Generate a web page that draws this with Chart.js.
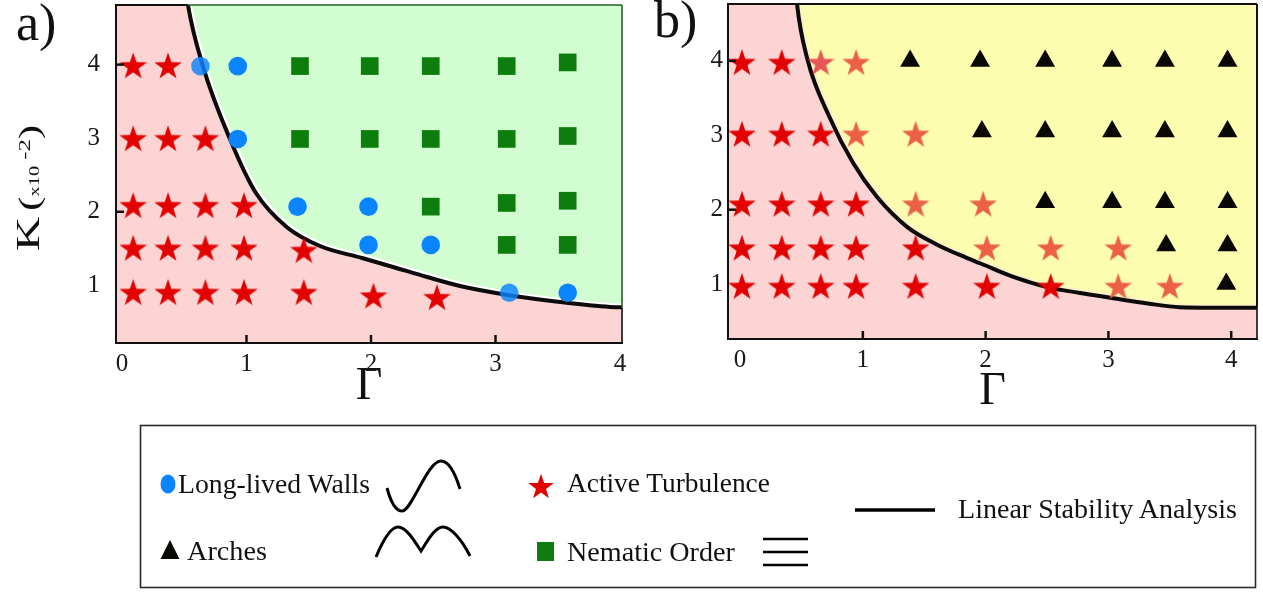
<!DOCTYPE html>
<html lang="en">
<head>
<meta charset="utf-8">
<title>Phase diagrams in the Γ–K plane</title>
<script src="https://cdn.jsdelivr.net/npm/chart.js@4.4.1/dist/chart.umd.min.js"></script>
<style>
  html, body { margin: 0; padding: 0; background: #fff; }
  body { position: relative; width: 1263px; height: 592px; overflow: hidden;
         font-family: "Liberation Serif", "DejaVu Serif", serif; color: #111; }
  canvas { position: absolute; top: 0; }
  #panelA { left: 0; }
  #panelB { left: 630px; }
  .tag { position: absolute; font-size: 52px; line-height: 1; }
  #ylab { position: absolute; left: -32px; top: 170px; width: 120px; height: 36px; line-height: 36px;
          text-align: center; white-space: nowrap; transform: rotate(-90deg) scaleX(1.45); transform-origin: 50% 50%; }
  #legend { position: absolute; left: 0; top: 0; }
</style>
</head>
<body>
<canvas id="panelA" width="640" height="420"></canvas>
<canvas id="panelB" width="633" height="420"></canvas>
<div class="tag" style="left:16px;top:-3px">a)</div>
<div class="tag" style="left:654px;top:-6px">b)</div>
<div id="ylab"><span style="font-size:33px">K</span> <span style="font-size:30px">(</span><span style="font-size:14px">x10</span><span style="font-size:17px;position:relative;top:-9px"> -2</span><span style="font-size:30px">)</span></div>

<svg id="legend" width="1263" height="592" font-family="Liberation Serif, DejaVu Serif, serif" fill="#111">
  <rect x="140.5" y="425.5" width="1115" height="162" fill="none" stroke="#2b2b2b" stroke-width="1.6"/>
  <ellipse cx="168" cy="484" rx="7.5" ry="9.5" fill="#0a84ff"/>
  <text x="178" y="493" font-size="22" data-w="192">Long-lived Walls</text>
  <path d="M387,488 C391,503 396,511 402,511 C412,511 427,461 441,461 C450,461 456,476 460,489" fill="none" stroke="#000" stroke-width="3"/>
  <polygon id="legStar" fill="#e20000"/>
  <text x="567" y="492" font-size="22" data-w="203">Active Turbulence</text>
  <line x1="855" y1="510" x2="935" y2="510" stroke="#000" stroke-width="3.5"/>
  <text x="958" y="518" font-size="22" data-w="279">Linear Stability Analysis</text>
  <polygon points="170,540 160.5,559 179.5,559" fill="#0a0805"/>
  <text x="187" y="560" font-size="22" data-w="80">Arches</text>
  <path d="M376,557 C384,538 392,527 398,527 C406,527 414,540 421,551 C428,540 435,527 443,527 C451,527 462,540 470,556" fill="none" stroke="#000" stroke-width="3"/>
  <rect x="537" y="542" width="17" height="19" fill="#0e7d0e"/>
  <text x="567" y="561" font-size="22" data-w="168">Nematic Order</text>
  <g stroke="#000" stroke-width="2.5">
    <line x1="763" y1="539" x2="808" y2="539"/>
    <line x1="763" y1="552" x2="808" y2="552"/>
    <line x1="763" y1="565" x2="808" y2="565"/>
  </g>
</svg>

<script>
// Axis tick values shared by both panels
const gammaTicks = [0, 1, 2, 3, 4];
const kTicks = [1, 2, 3, 4];

// ---- Panel a) ----
// Long-lived walls (circles)
const aWallsG = [0.63, 0.93, 0.93, 1.41, 1.98, 1.98, 2.48, 3.11, 3.58];
const aWallsK = [3.98, 3.98, 2.99, 2.07, 2.07, 1.55, 1.55, 0.90, 0.90];
// Nematic order (squares)
const aNematicG = [1.43, 1.99, 2.48, 3.09, 3.58, 1.43, 1.99, 2.48, 3.09, 3.58, 2.48, 3.09, 3.58, 3.09, 3.58];
const aNematicK = [3.98, 3.98, 3.98, 3.98, 4.03, 2.99, 2.99, 2.99, 2.99, 3.03, 2.07, 2.12, 2.15, 1.55, 1.55];
// Active turbulence (stars)
const aTurbG = [0.09, 0.37,
                0.09, 0.37, 0.67,
                0.09, 0.37, 0.67, 0.98,
                0.09, 0.37, 0.67, 0.98, 1.46,
                0.09, 0.37, 0.67, 0.98, 1.46, 2.02, 2.53];
const aTurbK = [3.99, 3.99,
                3.00, 3.00, 3.00,
                2.09, 2.09, 2.09, 2.09,
                1.51, 1.51, 1.51, 1.51, 1.48,
                0.91, 0.91, 0.91, 0.91, 0.91, 0.86, 0.84];
// Linear stability boundary
const aCurveG = [-0.2, 0.40, 0.53, 0.65, 0.867, 1.076, 1.325, 1.59, 1.928, 2.177, 2.45, 2.715, 3.10, 3.518, 3.92, 4.1];
const aCurveK = [6.5, 6.5, 4.81, 3.98, 2.99, 2.255, 1.79, 1.535, 1.372, 1.25, 1.114, 0.992, 0.87, 0.774, 0.707, 0.70];

// ---- Panel b) ----
// Active turbulence, unstable side (red stars)
const bTurbG = [0.016, 0.34,
                0.016, 0.34, 0.657,
                0.016, 0.34, 0.657, 0.945,
                0.016, 0.34, 0.657, 0.945, 1.43,
                0.016, 0.34, 0.657, 0.945, 1.43, 2.01, 2.53];
const bTurbK = [3.985, 3.985,
                3.02, 3.02, 3.02,
                2.08, 2.08, 2.08, 2.08,
                1.49, 1.49, 1.49, 1.49, 1.49,
                0.975, 0.975, 0.975, 0.975, 0.975, 0.975, 0.975];
// Active turbulence, stable side (light stars)
const bTurbLightG = [0.945, 0.945, 1.43, 1.43, 1.98, 2.01, 2.53, 3.08, 3.08, 3.50];
const bTurbLightK = [3.985, 3.02, 3.02, 2.08, 2.08, 1.49, 1.49, 1.49, 0.975, 0.975];
// Star sitting on the boundary
const bTurbEdgeG = [0.657];
const bTurbEdgeK = [3.985];
// Arches (triangles)
const bArchG = [1.385, 1.955, 2.485, 3.03, 3.46, 3.97,
                1.97, 2.485, 3.03, 3.46, 3.97,
                2.485, 3.03, 3.46, 3.97,
                3.47, 3.97,
                3.96];
const bArchK = [4.0, 4.0, 4.0, 4.0, 4.0, 4.0,
                3.05, 3.05, 3.05, 3.05, 3.05,
                2.10, 2.10, 2.10, 2.10,
                1.52, 1.52,
                1.0];
// Linear stability boundary
const bCurveG = [-0.3, 0.38, 0.464, 0.546, 0.733, 0.92, 1.116, 1.36, 1.605, 1.85, 1.955, 2.22, 2.50, 2.77, 3.04, 3.32, 3.58, 4.3];
const bCurveK = [6.5, 6.5, 4.765, 4.04, 3.23, 2.63, 2.17, 1.77, 1.53, 1.35, 1.28, 1.10, 0.96, 0.88, 0.81, 0.74, 0.69, 0.68];

// Colours
const PINK = 'rgb(253,212,212)';
const GREEN_BG = 'rgb(209,253,209)';
const YELLOW_BG = 'rgb(253,253,176)';
const RED = 'rgb(226,0,0)';
const SALMON = 'rgb(236,96,70)';
const EDGE_RED = 'rgba(226,40,60,0.78)';
const BLUE = 'rgb(10,132,255)';
const BLUE_SOFT = 'rgba(10,132,255,0.82)';
const SQUARE_GREEN = 'rgb(13,125,13)';
const ARCH_BLACK = 'rgb(10,8,5)';
const SERIF = '"Liberation Serif", "DejaVu Serif", serif';

const pts = (g, k) => g.map((v, i) => ({ x: v, y: k[i] }));

// Five-pointed star outline (outer radius R), centred on its bounding box
function starPoints(cx, cy, R, inner) {
  const out = [];
  for (let i = 0; i < 10; i++) {
    const r = i % 2 ? R * inner : R;
    const a = -Math.PI / 2 + i * Math.PI / 5;
    out.push([cx + r * Math.cos(a), cy + r * Math.sin(a)]);
  }
  return out;
}
function starImage(color, R) {
  const c = document.createElement('canvas');
  const w = Math.ceil(2 * R * Math.sin(0.4 * Math.PI)) + 2;
  const h = Math.ceil(R * (1 + Math.cos(0.2 * Math.PI))) + 2;
  c.width = w; c.height = h;
  const ctx = c.getContext('2d');
  const cy = h / 2 + R * (1 - Math.cos(0.2 * Math.PI)) / 2;
  ctx.beginPath();
  starPoints(w / 2, cy, R, 0.39).forEach(([x, y], i) => i ? ctx.lineTo(x, y) : ctx.moveTo(x, y));
  ctx.closePath();
  ctx.fillStyle = color;
  ctx.fill();
  return c;
}
const STAR_RED = starImage(RED, 14.5);
const STAR_SALMON = starImage(SALMON, 14.5);
const STAR_EDGE = starImage(EDGE_RED, 14.5);

// Helpers along the boundary polyline
function crossX(G, K, level) {
  for (let i = 1; i < G.length; i++) {
    if ((K[i - 1] - level) * (K[i] - level) <= 0 && K[i - 1] !== K[i]) {
      return G[i - 1] + (level - K[i - 1]) * (G[i] - G[i - 1]) / (K[i] - K[i - 1]);
    }
  }
  return G[0];
}
function valueAt(G, K, x) {
  for (let i = 1; i < G.length; i++) {
    if (x >= G[i - 1] && x <= G[i]) return K[i - 1] + (x - G[i - 1]) * (K[i] - K[i - 1]) / (G[i] - G[i - 1]);
  }
  return K[K.length - 1];
}

// Region background, frame, inward tick marks and the light rim along the boundary
const panelFrame = {
  id: 'panelFrame',
  beforeDraw(chart, args, o) {
    const { ctx, chartArea: a } = chart;
    ctx.save();
    ctx.fillStyle = o.background;
    ctx.fillRect(a.left, a.top, a.right - a.left, a.bottom - a.top);
    ctx.restore();
  },
  beforeDatasetDraw(chart, args, o) {
    const ds = chart.data.datasets[args.index];
    if (!ds.rim || !args.meta.dataset) return;
    const { ctx, chartArea: a } = chart;
    ctx.save();
    ctx.beginPath();
    ctx.rect(a.left, a.top, a.right - a.left, a.bottom - a.top);
    ctx.clip();
    ctx.translate(2.2, -2.2);
    ctx.beginPath();
    args.meta.dataset.path(ctx);
    ctx.strokeStyle = ds.rim;
    ctx.lineWidth = 3;
    ctx.stroke();
    ctx.restore();
  },
  afterDraw(chart, args, o) {
    const { ctx, chartArea: a, scales: { x, y } } = chart;
    const seg = (x1, y1, x2, y2, color, w) => {
      ctx.beginPath(); ctx.moveTo(x1, y1); ctx.lineTo(x2, y2);
      ctx.strokeStyle = color; ctx.lineWidth = w; ctx.stroke();
    };
    ctx.save();
    ctx.lineCap = 'butt';
    const xTop = x.getPixelForValue(crossX(o.curveG, o.curveK, y.max));
    const yRight = y.getPixelForValue(valueAt(o.curveG, o.curveK, x.max));
    seg(a.left - 1, a.top, xTop, a.top, o.edge, 2);
    seg(xTop, a.top, a.right, a.top, o.regionEdge, o.regionEdgeW);
    seg(a.right, a.top, a.right, yRight, o.regionEdge, o.regionEdgeW);
    seg(a.right, yRight, a.right, a.bottom, o.edge, 1.6);
    seg(a.left, a.top - 1, a.left, a.bottom + 1, o.edge, 2);
    seg(a.left, a.bottom, a.right + 1, a.bottom, o.edge, 2);
    o.xMarks.forEach(v => { const px = x.getPixelForValue(v); seg(px, a.bottom, px, a.bottom - 8, o.edge, 2.5); });
    o.yMarks.forEach(v => { const py = y.getPixelForValue(v); seg(a.left, py, a.left + 8, py, o.edge, 2.5); });
    ctx.restore();
  }
};

function makePanel(id, p) {
  return new Chart(document.getElementById(id), {
    type: 'line',
    data: { datasets: p.datasets },
    options: {
      responsive: false,
      animation: false,
      events: [],
      layout: { padding: p.padding, autoPadding: false },
      plugins: {
        legend: { display: false },
        tooltip: { enabled: false },
        panelFrame: p.frame
      },
      scales: {
        x: {
          type: 'linear', min: p.xMin, max: p.xMax,
          afterBuildTicks: s => { s.ticks = gammaTicks.map(v => ({ value: v })); },
          afterFit: s => { s.height = p.xAxisH; s.paddingLeft = 0; s.paddingRight = 0; },
          grid: { display: false, drawTicks: false },
          border: { display: false },
          ticks: { font: { family: SERIF, size: 25 }, color: '#1a1a1a', padding: 6, maxRotation: 0, autoSkip: false },
          title: { display: true, text: 'Γ', color: '#111', font: { family: SERIF, size: 46, lineHeight: 1 },
                   padding: { top: 0, bottom: p.titlePad } }
        },
        y: {
          type: 'linear', min: p.yMin, max: p.yMax,
          afterBuildTicks: s => { s.ticks = kTicks.map(v => ({ value: v })); },
          afterFit: s => { s.width = p.yAxisW; s.paddingTop = 0; s.paddingBottom = 0; },
          grid: { display: false, drawTicks: false },
          border: { display: false },
          ticks: { font: { family: SERIF, size: 25 }, color: '#1a1a1a', padding: p.yPad }
        }
      }
    },
    plugins: [panelFrame]
  });
}

const boundary = (G, K, rim) => ({
  label: 'Linear Stability Analysis', data: pts(G, K), showLine: true,
  borderColor: '#0b0b0b', borderWidth: 4, pointRadius: 0, rim,
  fill: 'start', backgroundColor: PINK, cubicInterpolationMode: 'monotone', order: 5
});
const markers = (label, data, style, radius, color, order) => ({
  label, data, showLine: false, pointStyle: style, pointRadius: radius,
  pointBackgroundColor: color, pointBorderWidth: 0, order
});

makePanel('panelA', {
  xMin: -0.048, xMax: 4.016, yMin: 0.217, yMax: 4.81,
  padding: { top: 5, right: 18, left: 0, bottom: 0 },
  yAxisW: 116, xAxisH: 77, yPad: 16, titlePad: 10,
  frame: { background: GREEN_BG, edge: '#111', regionEdge: '#245c24', regionEdgeW: 1.6,
           curveG: aCurveG, curveK: aCurveK, xMarks: [1, 2, 3], yMarks: [4, 2] },
  datasets: [
    markers('Long-lived Walls', pts(aWallsG, aWallsK), 'circle', 9.3,
            aWallsG.map((g, i) => (i === 0 || i === 7) ? BLUE_SOFT : BLUE), 0),
    markers('Nematic Order', pts(aNematicG, aNematicK), 'rect', 12.5, SQUARE_GREEN, 1),
    markers('Active Turbulence', pts(aTurbG, aTurbK), STAR_RED, 14, RED, 2),
    boundary(aCurveG, aCurveK, '#ffffff')
  ]
});

makePanel('panelB', {
  xMin: -0.098, xMax: 4.21, yMin: 0.262, yMax: 4.765,
  padding: { top: 4, right: 6, left: 0, bottom: 0 },
  yAxisW: 98, xAxisH: 81, yPad: 5, titlePad: 5,
  frame: { background: YELLOW_BG, edge: '#111', regionEdge: '#111', regionEdgeW: 2,
           curveG: bCurveG, curveK: bCurveK, xMarks: [1, 2, 3, 4], yMarks: [4, 2] },
  datasets: [
    markers('Arches', pts(bArchG, bArchK), 'triangle', 11.5, ARCH_BLACK, 0),
    markers('Active Turbulence (boundary)', pts(bTurbEdgeG, bTurbEdgeK), STAR_EDGE, 14, EDGE_RED, 1),
    markers('Active Turbulence (ordered side)', pts(bTurbLightG, bTurbLightK), STAR_SALMON, 14, SALMON, 2),
    markers('Active Turbulence', pts(bTurbG, bTurbK), STAR_RED, 14, RED, 3),
    boundary(bCurveG, bCurveK, 'rgba(253,240,200,0.9)')
  ]
});

// Legend: star glyph and text widths
document.getElementById('legStar').setAttribute('points',
  starPoints(541, 486 + 13.5 * 0.095, 13.5, 0.39).map(p => p.map(v => v.toFixed(1)).join(',')).join(' '));
document.querySelectorAll('#legend text[data-w]').forEach(t => {
  const target = +t.dataset.w;
  const fs = parseFloat(t.getAttribute('font-size'));
  const w = t.getComputedTextLength();
  if (w > 0) t.setAttribute('font-size', (fs * target / w).toFixed(2));
});
</script>
</body>
</html>
